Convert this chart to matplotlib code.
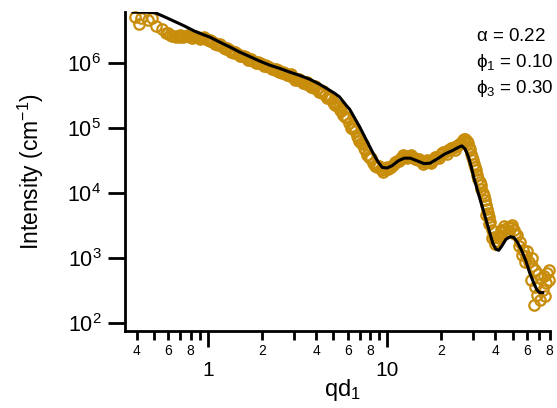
import matplotlib
matplotlib.use("Agg")
import matplotlib.pyplot as plt
from matplotlib.ticker import FixedLocator, FixedFormatter, NullLocator

plt.rcParams["font.family"] = ["Liberation Sans", "DejaVu Sans"]
plt.rcParams["mathtext.fontset"] = "custom"
plt.rcParams["mathtext.rm"] = "Liberation Sans"
plt.rcParams["mathtext.it"] = "Liberation Sans:italic"
plt.rcParams["mathtext.sf"] = "Liberation Sans"

# measured scattering intensity
q_data = [0.391, 0.412, 0.423, 0.46, 0.487, 0.513, 0.553, 0.583, 0.615, 0.646,
          0.679, 0.714, 0.751, 0.791, 0.832, 0.875, 0.921, 0.970, 1.02, 1.07,
          1.13, 1.19, 1.25, 1.32, 1.39, 1.46, 1.54, 1.62, 1.70, 1.79,
          1.89, 1.99, 2.09, 2.20, 2.32, 2.44, 2.56, 2.70, 2.84, 2.99,
          3.15, 3.31, 3.49, 3.67, 3.87, 4.07, 4.28, 4.51, 4.75, 5.0,
          5.26, 5.53, 5.83, 6.13, 6.45, 6.8, 7.15, 7.54, 7.93, 8.34,
          8.78, 9.24, 9.73, 10.2, 10.8, 11.3, 11.9, 12.6, 13.2, 13.9,
          14.6, 15.4, 16.2, 17.1, 18.0, 18.9, 19.9, 20.9, 22.0, 23.2,
          24.4, 25.7, 26.7, 27.8, 28.5, 29.2, 30.0, 30.9, 31.7, 32.6,
          33.4, 34.4, 35.3, 36.3, 37.2, 38.2, 39.2, 40.2, 41.0, 42.0,
          43.4, 45.0, 46.8, 48.6, 50.6, 52.5, 54.6, 56.7, 59.0, 61.3,
          63.6, 66.1, 68.7, 71.4, 74.1, 77.0, 79.5,
          35.3, 36.8, 38.2, 39.7, 41.6, 42.8, 44.4, 47.4, 49.3, 51.2,
          53.9, 56.0, 58.3, 59.8, 63.6, 62.9, 66.0, 67.9, 70.5, 65.3,
          73.3, 76.2, 79.0, 75.2,
          0.60, 0.66, 0.70, 0.73, 0.77, 0.81, 0.85, 0.90, 0.945, 0.995,
          1.045, 1.10, 1.16, 1.22, 1.28, 1.35, 1.42, 1.50, 1.58, 1.66,
          1.74, 1.84, 1.94, 2.04, 2.14, 2.26, 2.38, 2.50, 2.63, 2.77,
          2.91, 3.07, 3.23, 3.40, 3.58, 3.77, 3.97, 4.17, 4.39, 4.63,
          4.87, 5.13, 5.39, 5.68, 5.98, 6.29, 6.62, 6.97, 7.34, 7.73,
          8.13, 8.56, 9.0, 9.48, 9.96, 10.5, 11.0, 11.6, 12.2, 12.9,
          13.55, 14.25, 15.0, 15.8, 16.65, 17.5, 18.45, 19.4, 20.4, 21.45,
          22.6, 23.8, 25.0, 26.2, 27.2, 28.1, 28.9, 29.6, 30.4, 31.3,
          32.1, 33.0, 33.9, 34.8, 35.8, 36.7,
          0.63, 0.695, 0.765, 0.84, 0.93, 1.03, 1.14, 1.26, 1.40, 1.55,
          1.72, 1.91, 2.11, 2.35, 2.60, 2.88, 3.19, 3.53, 3.92, 4.33,
          4.69, 5.06, 5.46, 5.90, 6.37, 6.88, 7.44, 8.03, 8.67, 9.36,
          10.1, 10.9, 11.75, 12.7, 13.7, 14.8, 15.95, 17.2, 18.6, 20.1,
          21.7, 23.4, 25.3, 26.4]
i_data = [5.05e6, 3.95e6, 4.85e6, 4.5e6, 4.85e6, 3.65e6, 3.3e6, 2.85e6, 2.67e6, 2.58e6,
          2.58e6, 2.58e6, 2.58e6, 2.49e6, 2.58e6, 2.49e6, 2.40e6, 2.32e6, 2.24e6, 2.08e6,
          1.94e6, 1.81e6, 1.69e6, 1.57e6, 1.46e6, 1.36e6, 1.27e6, 1.22e6, 1.14e6, 1.06e6,
          1.02e6, 9.5e5, 9.2e5, 8.6e5, 8.0e5, 7.7e5, 7.2e5, 6.95e5, 6.5e5, 6.0e5,
          5.6e5, 5.2e5, 4.9e5, 4.55e5, 4.2e5, 3.95e5, 3.55e5, 3.2e5, 2.85e5, 2.5e5,
          2.15e5, 1.8e5, 1.46e5, 1.18e5, 9.5e4, 7.5e4, 5.9e4, 4.5e4, 3.55e4, 2.9e4,
          2.5e4, 2.3e4, 2.3e4, 2.4e4, 2.65e4, 3.1e4, 3.4e4, 3.7e4, 3.7e4, 3.55e4,
          3.3e4, 3.1e4, 3.0e4, 3.0e4, 3.2e4, 3.55e4, 3.95e4, 4.25e4, 4.5e4, 4.9e4,
          5.2e4, 5.8e4, 6.6e4, 6.2e4, 5.1e4, 4.0e4, 3.2e4, 2.5e4, 1.9e4, 1.45e4,
          1.15e4, 9.0e3, 6.5e3, 4.9e3, 3.6e3, 2.65e3, 2.1e3, 1.8e3, 1.75e3, 2.0e3,
          2.5e3, 2.75e3, 3.0e3, 3.0e3, 2.65e3, 2.2e3, 1.75e3, 1.3e3, 1.05e3, 8.5e2,
          7.5e2, 6.5e2, 5.6e2, 4.85e2, 5.3e2, 5.8e2, 6.4e2,
          4.6e3, 3.3e3, 2.0e3, 1.6e3, 2.15e3, 2.65e3, 3.1e3, 2.5e3, 3.2e3, 2.35e3,
          1.5e3, 1.1e3, 8.6e2, 1.25e3, 1.0e3, 4.5e2, 3.6e2, 2.7e2, 2.25e2, 1.9e2,
          3.2e2, 4.1e2, 4.6e2, 2.55e2,
          2.85e6, 2.45e6, 2.7e6, 2.45e6, 2.65e6, 2.4e6, 2.62e6, 2.35e6, 2.45e6, 2.2e6,
          2.15e6, 1.95e6, 1.92e6, 1.70e6, 1.66e6, 1.45e6, 1.45e6, 1.28e6, 1.28e6, 1.12e6,
          1.14e6, 9.8e5, 1.0e6, 8.8e5, 9.0e5, 7.9e5, 8.1e5, 7.1e5, 7.3e5, 6.4e5,
          6.6e5, 5.5e5, 5.7e5, 4.8e5, 5.0e5, 4.2e5, 4.35e5, 3.6e5, 3.65e5, 2.9e5,
          2.85e5, 2.2e5, 2.1e5, 1.55e5, 1.4e5, 1.0e5, 9.0e4, 6.3e4, 5.6e4, 3.8e4,
          3.4e4, 2.55e4, 2.55e4, 2.1e4, 2.5e4, 2.45e4, 3.0e4, 3.05e4, 3.75e4, 3.45e4,
          3.8e4, 3.25e4, 3.3e4, 2.8e4, 3.2e4, 2.85e4, 3.55e4, 3.4e4, 4.3e4, 4.0e4,
          4.9e4, 4.6e4, 5.7e4, 6.4e4, 6.6e4, 5.8e4, 4.7e4, 3.6e4, 2.8e4, 2.2e4,
          1.65e4, 1.3e4, 1.0e4, 7.8e3, 5.6e3, 4.2e3,
          2.6e6, 2.5e6, 2.55e6, 2.5e6, 2.38e6, 2.15e6, 1.88e6, 1.62e6, 1.42e6, 1.25e6,
          1.10e6, 9.8e5, 8.9e5, 7.8e5, 7.0e5, 6.3e5, 5.4e5, 4.7e5, 4.05e5, 3.4e5,
          2.95e5, 2.35e5, 1.9e5, 1.45e5, 1.05e5, 7.0e4, 4.9e4, 3.4e4, 2.65e4, 2.25e4,
          2.35e4, 2.75e4, 3.3e4, 3.6e4, 3.6e4, 3.2e4, 2.95e4, 3.05e4, 3.5e4, 4.1e4,
          4.6e4, 5.0e4, 5.6e4, 6.2e4]

# model fit
q_fit = [0.382, 0.441, 0.506, 0.575, 0.653, 0.742, 0.843, 0.958, 1.02, 1.16,
         1.32, 1.50, 1.70, 1.94, 2.20, 2.50, 2.84, 3.23, 3.67, 4.17,
         4.74, 5.06, 5.39, 5.9, 6.15, 6.37, 7.0, 7.62, 8.3, 8.85, 9.35, 9.95,
         10.6, 11.5, 12.4, 13.4, 14.6, 16.0, 17.3, 18.9, 20.9, 23.2,
         24.9, 26.0, 27.1, 28.2, 29.3, 30.3, 31.7, 33.0, 34.4, 35.8,
         37.2, 38.7, 40.2, 41.7, 43.3, 45.6, 48.1, 50.6, 53.2, 56.0,
         59.0, 62.1, 65.3, 68.0, 70.5, 73.3]
i_fit = [6.0e6, 6.0e6, 5.9e6, 5.05e6, 4.3e6, 3.65e6, 3.05e6, 2.65e6, 2.49e6, 2.08e6,
         1.75e6, 1.46e6, 1.25e6, 1.06e6, 9.2e5, 8.2e5, 7.2e5, 6.4e5, 5.6e5, 4.7e5,
         3.8e5, 3.4e5, 3.0e5, 2.2e5, 1.93e5, 1.63e5, 1.03e5, 6.5e4, 4.1e4, 3.0e4, 2.45e4, 2.4e4,
         2.6e4, 3.1e4, 3.4e4, 3.4e4, 3.1e4, 2.8e4, 2.85e4, 3.3e4, 3.95e4, 4.5e4,
         5.0e4, 5.25e4, 4.7e4, 3.6e4, 2.5e4, 1.7e4, 1.1e4, 7.5e3, 5.1e3, 3.45e3,
         2.4e3, 1.65e3, 1.35e3, 1.3e3, 1.5e3, 1.9e3, 2.1e3, 2.05e3, 1.7e3, 1.28e3,
         9.0e2, 5.8e2, 4.1e2, 3.2e2, 2.9e2, 2.9e2]

y_ticks = [1e2, 1e3, 1e4, 1e5, 1e6]
y_labels = [r"$\mathregular{10^{2}}$", r"$\mathregular{10^{3}}$", r"$\mathregular{10^{4}}$",
            r"$\mathregular{10^{5}}$", r"$\mathregular{10^{6}}$"]
x_major = [1, 10]
x_major_labels = ["1", "10"]
x_minor = [0.4, 0.5, 0.6, 0.7, 0.8, 0.9, 2, 3, 4, 5, 6, 7, 8, 9,
           20, 30, 40, 50, 60, 70, 80]
x_minor_labels = ["4", "", "6", "", "8", "", "2", "", "4", "", "6", "", "8", "",
                  "2", "", "4", "", "6", "", "8"]

params = [r"$\mathregular{\alpha}$ = 0.22",
          r"$\mathregular{\phi_1}$ = 0.10",
          r"$\mathregular{\phi_3}$ = 0.30"]

ORANGE = "#C98D0C"

fig = plt.figure(figsize=(5.57, 4.08), dpi=100)
ax = fig.add_axes([125 / 557, 1 - 331 / 408, 425 / 557, 319 / 408])

ax.plot(q_data, i_data, "o", mfc="none", mec=ORANGE, ms=7.5, mew=1.6,
        clip_on=False, zorder=2)
ax.plot(q_fit, i_fit, "-", color="black", lw=2.2, zorder=3)

ax.set_xscale("log")
ax.set_yscale("log")
ax.set_xlim(0.3446, 80.5)
ax.set_ylim(74.5, 6.03e6)

for side in ("top", "right"):
    ax.spines[side].set_visible(False)
for side in ("left", "bottom"):
    ax.spines[side].set_linewidth(2)

ax.yaxis.set_major_locator(FixedLocator(y_ticks))
ax.yaxis.set_major_formatter(FixedFormatter(y_labels))
ax.yaxis.set_minor_locator(NullLocator())
ax.xaxis.set_major_locator(FixedLocator(x_major))
ax.xaxis.set_major_formatter(FixedFormatter(x_major_labels))
ax.xaxis.set_minor_locator(FixedLocator(x_minor))
ax.xaxis.set_minor_formatter(FixedFormatter(x_minor_labels))

ax.tick_params(axis="y", which="major", direction="out", length=12, width=2,
               pad=5, labelsize=15.5)
ax.tick_params(axis="x", which="major", direction="out", length=11.5, width=2,
               pad=10, labelsize=15)
ax.tick_params(axis="x", which="minor", direction="out", length=6.5, width=2,
               pad=3, labelsize=10)

fig.text(31 / 557, 1 - 171.5 / 408, r"Intensity (cm$^{\mathregular{-1}}$)",
         rotation=90, ha="center", va="center", fontsize=16.5)
fig.text(342 / 557, 1 - 396 / 408, r"qd$_{\mathregular{1}}$", ha="center",
         va="baseline", fontsize=17)

for k, s in enumerate(params):
    fig.text(476 / 557, 1 - (41 + 26 * k) / 408, s, ha="left", va="baseline",
             fontsize=13.5)

fig.savefig("out.png", dpi=100)
